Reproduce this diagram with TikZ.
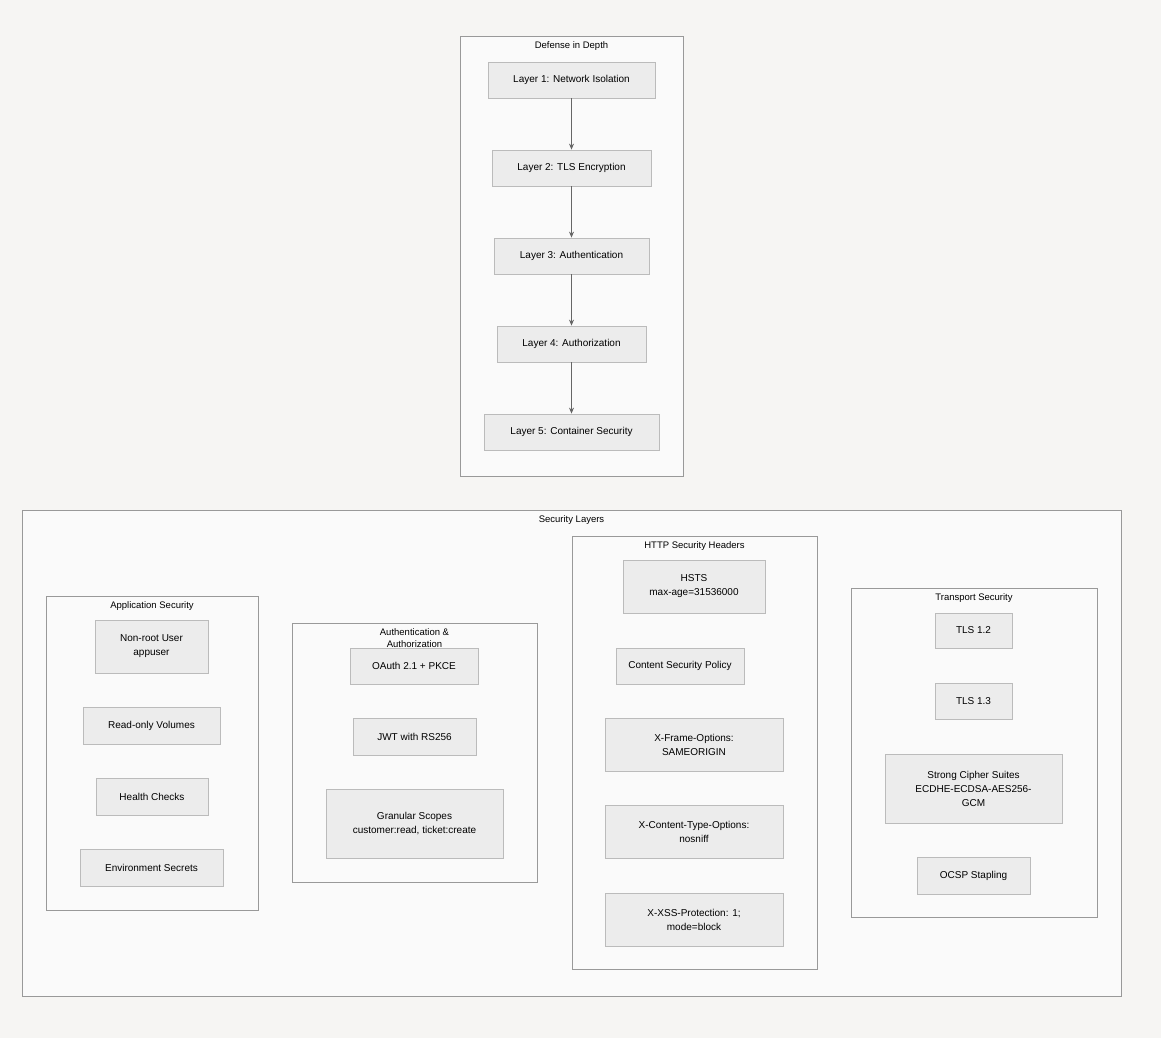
\documentclass[tikz,border=0pt]{standalone}
\usepackage{fontspec}
\setmainfont{Liberation Sans}
\usetikzlibrary{arrows.meta}
\definecolor{bg}{HTML}{F6F5F3}
\definecolor{nf}{HTML}{ECECEC}
\definecolor{nb}{HTML}{BBBBBB}
\definecolor{cf}{HTML}{FAFAFA}
\definecolor{cb}{HTML}{999999}
\tikzset{
 box/.style={draw=nb,fill=nf,line width=0.8pt,align=center,inner sep=0pt,font=\fontsize{10}{14}\selectfont},
 clus/.style={draw=cb,fill=cf,line width=0.8pt},
 ctitle/.style={font=\fontsize{9.5}{12}\selectfont,align=center},
 arr/.style={draw=black!60,line width=0.7pt,-{Stealth[length=6pt,width=5pt]}}
}
\newcommand{\bx}[6]{\node[box,minimum width=#4pt-#2pt,minimum height=#5pt-#3pt] (#1) at ({(#2+#4)/2},{(#3+#5)/2}) {#6};}
\newcommand{\cl}[6]{\draw[clus] (#2,#3) rectangle (#4,#5); \node[ctitle,anchor=north] (#1) at ({(#2+#4)/2},{#3+2}) {#6};}
\begin{document}
\begin{tikzpicture}[x=1pt,y=-1pt]
\fill[bg] (0,0) rectangle (1161,1038);
\useasboundingbox (0,0) rectangle (1161,1038);
\cl{dd}{460}{36}{683}{476}{Defense in Depth}
\bx{l1}{488}{62}{655}{98}{Layer 1: Network Isolation}
\bx{l2}{492}{150}{651}{186}{Layer 2: TLS Encryption}
\bx{l3}{494}{238}{649}{274}{Layer 3: Authentication}
\bx{l4}{497}{326}{646}{362}{Layer 4: Authorization}
\bx{l5}{484}{414}{659}{450}{Layer 5: Container Security}
\draw[arr] (l1)--(l2); \draw[arr] (l2)--(l3); \draw[arr] (l3)--(l4); \draw[arr] (l4)--(l5);
\cl{sl}{22}{510}{1121}{996}{Security Layers}
\cl{as}{46}{596}{258}{910}{Application Security}
\bx{nr}{95}{620}{208}{673}{Non-root User\\appuser}
\bx{ro}{83}{707}{220}{744}{Read-only Volumes}
\bx{hc}{96}{778}{208}{815}{Health Checks}
\bx{es}{80}{849}{223}{886}{Environment Secrets}
\cl{aa}{292}{623}{537}{882}{Authentication \&\\Authorization}
\bx{oa}{350}{648}{478}{684}{OAuth 2.1 + PKCE}
\bx{jw}{353}{718}{476}{755}{JWT with RS256}
\bx{gs}{326}{789}{503}{858}{Granular Scopes\\customer:read, ticket:create}
\cl{hh}{572}{536}{817}{969}{HTTP Security Headers}
\bx{hs}{623}{560}{765}{613}{HSTS\\max-age=31536000}
\bx{csp}{616}{648}{744}{684}{Content Security Policy}
\bx{xfo}{605}{718}{783}{771}{X-Frame-Options:\\SAMEORIGIN}
\bx{xct}{605}{805}{783}{858}{X-Content-Type-Options:\\nosniff}
\bx{xss}{605}{893}{783}{946}{X-XSS-Protection: 1;\\mode=block}
\cl{ts}{851}{588}{1097}{917}{Transport Security}
\bx{t12}{935}{613}{1012}{648}{TLS 1.2}
\bx{t13}{935}{683}{1012}{719}{TLS 1.3}
\bx{sc}{885}{754}{1062}{823}{Strong Cipher Suites\\ECDHE-ECDSA-AES256-\\GCM}
\bx{oc}{917}{857}{1030}{894}{OCSP Stapling}
\end{tikzpicture}
\end{document}
